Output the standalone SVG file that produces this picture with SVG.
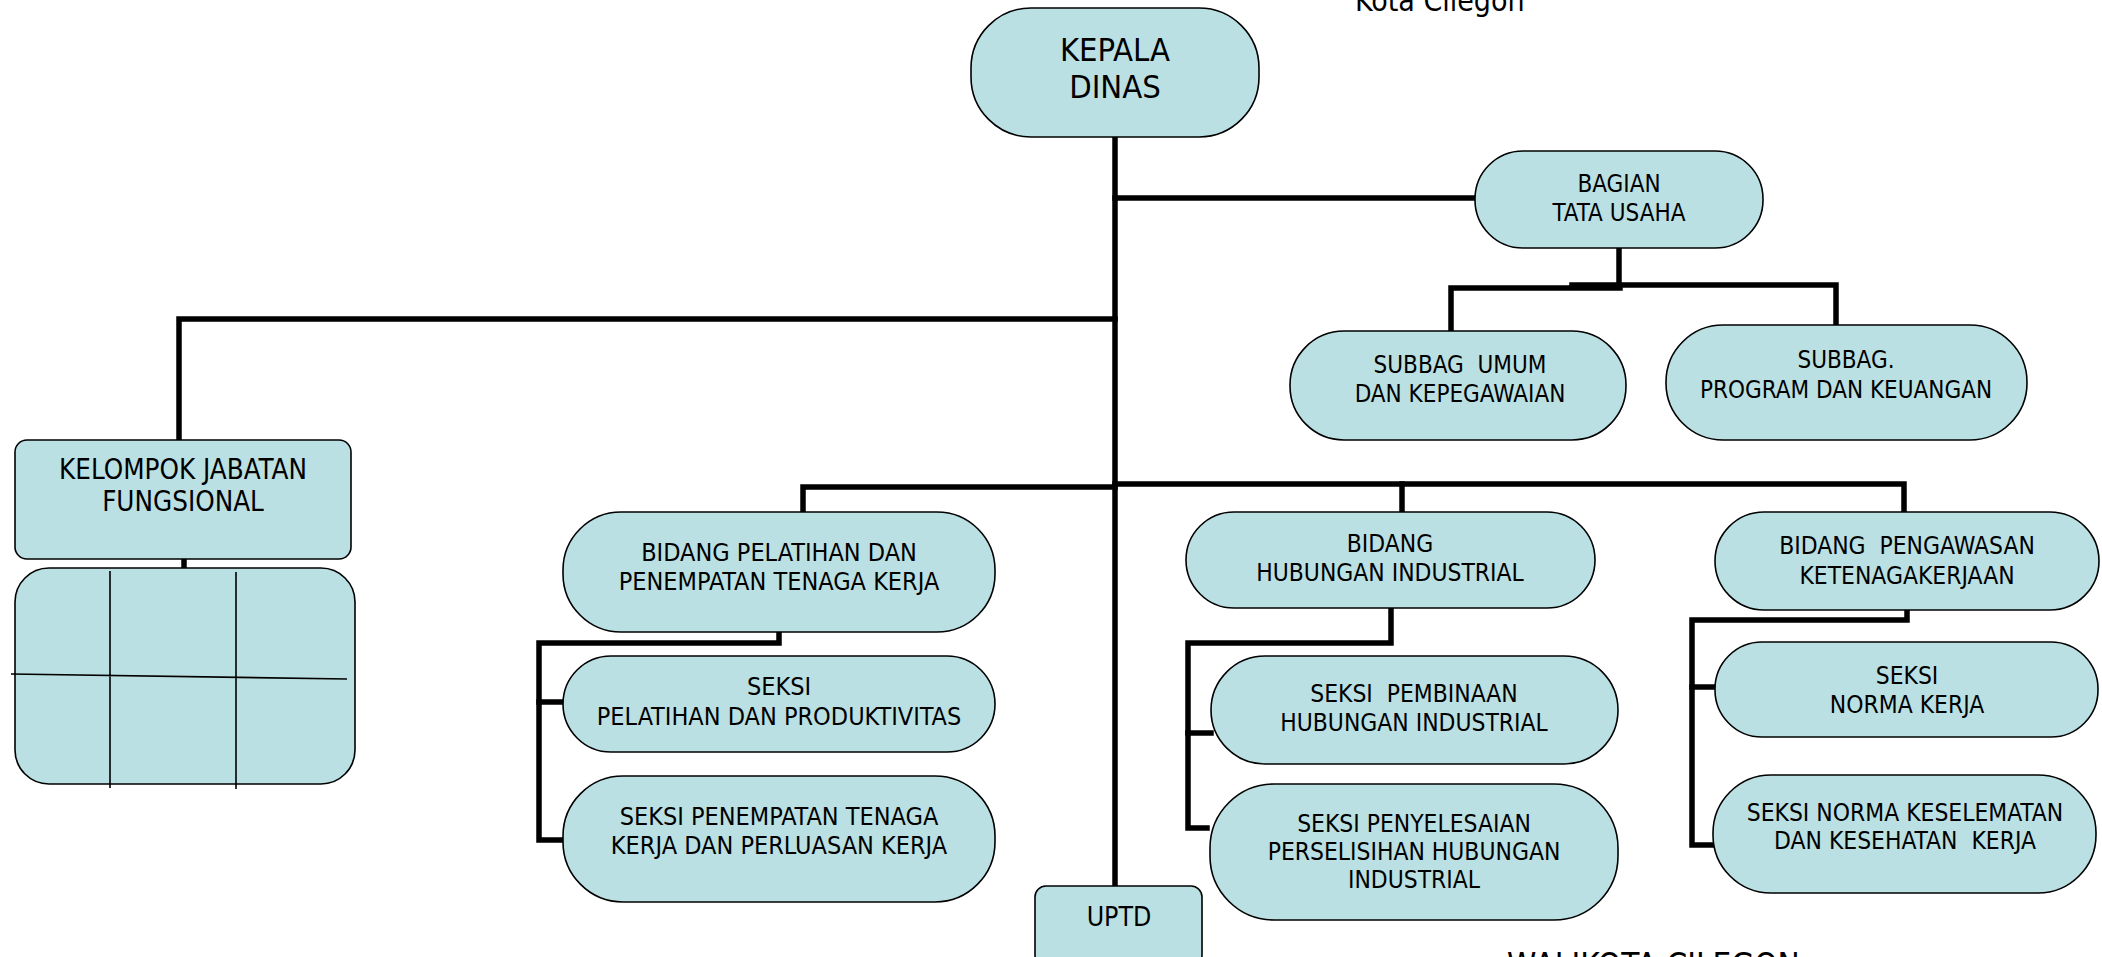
<svg xmlns="http://www.w3.org/2000/svg" width="2102" height="957" viewBox="0 0 2102 957">
<style>
.n{fill:#BBE0E3;stroke:#000;stroke-width:1.6}
.t{font-family:"DejaVu Sans Condensed","DejaVu Sans",sans-serif;font-stretch:condensed;font-size:24px;text-anchor:middle;fill:#000;white-space:pre}
.l{font-size:25px}
.c{fill:none;stroke:#000;stroke-width:5.5;stroke-linecap:square;stroke-linejoin:miter}
.g{fill:none;stroke:#000;stroke-width:1.6}
</style>
<rect width="2102" height="957" fill="#fff"/>
<g id="connectors">
<path class="c" d="M1115 137 V886"/>
<path class="c" d="M1115 198 H1475"/>
<path class="c" d="M1619 248 V286"/>
<path class="c" d="M1451 331 V288 H1620"/>
<path class="c" d="M1572 285 H1836 V325"/>
<path class="c" d="M1115 319 H179 V438"/>
<path class="c" d="M184 559 V568"/>
<path class="c" d="M803 512 V487 H1115"/>
<path class="c" d="M1115 484 H1904 V512"/>
<path class="c" d="M1402 484 V512"/>
<path class="c" d="M779 632 V643 H539 V840 H562"/>
<path class="c" d="M539 702 H562"/>
<path class="c" d="M1391 607 V643 H1188 V828 H1207"/>
<path class="c" d="M1188 733 H1211"/>
<path class="c" d="M1907 611 V620 H1692 V845 H1713"/>
<path class="c" d="M1692 687 H1715"/>
</g>
<g id="kepala">
<rect class="n" x="971" y="8" width="288" height="129" rx="60" ry="60"/>
<text class="t" style="font-size:32.5px" x="1115"><tspan x="1115" y="61">KEPALA</tspan><tspan x="1115" y="98">DINAS</tspan></text>
</g>
<g id="bagian-tu">
<rect class="n" x="1475" y="151" width="288" height="97" rx="48" ry="48"/>
<text class="t" x="1619"><tspan x="1619" y="192">BAGIAN</tspan><tspan x="1619" y="221">TATA USAHA</tspan></text>
</g>
<g id="subbag-umum">
<rect class="n" x="1290" y="331" width="336" height="109" rx="54" ry="54"/>
<text class="t" x="1460"><tspan x="1460" y="373">SUBBAG  UMUM</tspan><tspan x="1460" y="402">DAN KEPEGAWAIAN</tspan></text>
</g>
<g id="subbag-program">
<rect class="n" x="1666" y="325" width="361" height="115" rx="57" ry="57"/>
<text class="t" x="1846"><tspan x="1846" y="368">SUBBAG.</tspan><tspan x="1846" y="398">PROGRAM DAN KEUANGAN</tspan></text>
</g>
<g id="kelompok">
<rect class="n" x="15" y="440" width="336" height="119" rx="12" ry="12"/>
<text class="t" style="font-size:27.5px" x="183"><tspan x="183" y="479">KELOMPOK JABATAN</tspan><tspan x="183" y="511">FUNGSIONAL</tspan></text>
</g>
<g id="grid-box">
<rect class="n" x="15" y="568" width="340" height="216" rx="34" ry="34"/>
<path class="g" d="M110 571 V788 M236 572 V789 M11 674 L347 679"/>
</g>
<g id="bidang-pelatihan">
<rect class="n" x="563" y="512" width="432" height="120" rx="58" ry="58"/>
<text class="t l" x="779"><tspan x="779" y="561">BIDANG PELATIHAN DAN</tspan><tspan x="779" y="590">PENEMPATAN TENAGA KERJA</tspan></text>
</g>
<g id="seksi-pelatihan">
<rect class="n" x="563" y="656" width="432" height="96" rx="48" ry="48"/>
<text class="t l" x="779"><tspan x="779" y="695">SEKSI</tspan><tspan x="779" y="725">PELATIHAN DAN PRODUKTIVITAS</tspan></text>
</g>
<g id="seksi-penempatan">
<rect class="n" x="563" y="776" width="432" height="126" rx="60" ry="60"/>
<text class="t l" x="779"><tspan x="779" y="825">SEKSI PENEMPATAN TENAGA</tspan><tspan x="779" y="854">KERJA DAN PERLUASAN KERJA</tspan></text>
</g>
<g id="uptd">
<rect class="n" x="1035" y="886" width="167" height="80" rx="11" ry="11"/>
<text class="t" style="font-size:26.5px" x="1119" y="926">UPTD</text>
</g>
<g id="bidang-hi">
<rect class="n" x="1186" y="512" width="409" height="96" rx="48" ry="48"/>
<text class="t" style="font-size:24.4px" x="1390"><tspan x="1390" y="552">BIDANG</tspan><tspan x="1390" y="581">HUBUNGAN INDUSTRIAL</tspan></text>
</g>
<g id="seksi-pembinaan">
<rect class="n" x="1211" y="656" width="407" height="108" rx="54" ry="54"/>
<text class="t" style="font-size:24.4px" x="1414"><tspan x="1414" y="702">SEKSI  PEMBINAAN</tspan><tspan x="1414" y="731">HUBUNGAN INDUSTRIAL</tspan></text>
</g>
<g id="seksi-penyelesaian">
<rect class="n" x="1210" y="784" width="408" height="136" rx="64" ry="64"/>
<text class="t" style="font-size:24.4px" x="1414"><tspan x="1414" y="832">SEKSI PENYELESAIAN</tspan><tspan x="1414" y="860">PERSELISIHAN HUBUNGAN</tspan><tspan x="1414" y="888">INDUSTRIAL</tspan></text>
</g>
<g id="bidang-pengawasan">
<rect class="n" x="1715" y="512" width="384" height="98" rx="49" ry="49"/>
<text class="t" style="font-size:24.4px" x="1907"><tspan x="1907" y="554">BIDANG  PENGAWASAN</tspan><tspan x="1907" y="584">KETENAGAKERJAAN</tspan></text>
</g>
<g id="seksi-norma">
<rect class="n" x="1715" y="642" width="383" height="95" rx="47" ry="47"/>
<text class="t" style="font-size:24.4px" x="1907"><tspan x="1907" y="684">SEKSI</tspan><tspan x="1907" y="713">NORMA KERJA</tspan></text>
</g>
<g id="seksi-k3">
<rect class="n" x="1713" y="775" width="383" height="118" rx="58" ry="58"/>
<text class="t" style="font-size:24.4px" x="1905"><tspan x="1905" y="821">SEKSI NORMA KESELEMATAN</tspan><tspan x="1905" y="849">DAN KESEHATAN  KERJA</tspan></text>
</g>
<text class="t" style="font-size:30px;text-anchor:start" x="1355" y="11">Kota Cilegon</text>
<text class="t" style="font-size:33px;text-anchor:start" x="1507" y="977">WALIKOTA CILEGON</text>
</svg>
